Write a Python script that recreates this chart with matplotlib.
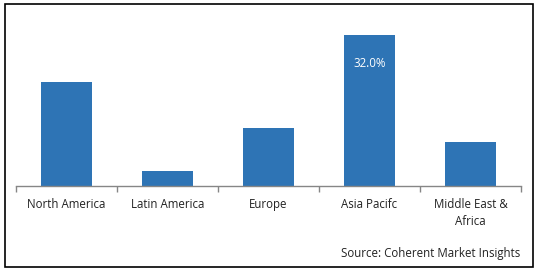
import matplotlib.pyplot as plt
from matplotlib.patches import Rectangle
import numpy as np

plt.rcParams['font.family'] = ['Open Sans', 'DejaVu Sans']

regions = ['North America', 'Latin America', 'Europe', 'Asia Pacifc', 'Middle East &\nAfrica']
share = [22.0, 3.2, 12.3, 32.0, 9.3]
label_idx = 3

fig = plt.figure(figsize=(5.38, 2.72), dpi=100)
ax = fig.add_axes([16 / 538, 86 / 272, 505 / 538, 165 / 272])

x = np.arange(len(regions))
bars = ax.bar(x, share, width=0.5, color='#2e74b5')

ax.set_xlim(-0.5, len(regions) - 0.5)
ax.set_ylim(0, 35)
ax.set_yticks([])
for s in ['top', 'right', 'left']:
    ax.spines[s].set_visible(False)
ax.spines['bottom'].set_color('#868686')
ax.spines['bottom'].set_linewidth(1)

ax.set_xticks(x)
ax.set_xticklabels(regions, fontsize=8.3, color='#222222', linespacing=1.4)
ax.tick_params(axis='x', which='major', length=0, pad=8.5)
ax.set_xticks(np.arange(-0.5, len(regions)), minor=True)
ax.tick_params(axis='x', which='minor', length=4, color='#868686', width=1)

b = bars[label_idx]
ax.text(b.get_x() + b.get_width() / 2, share[label_idx] - 6.1, '%.1f%%' % share[label_idx],
        ha='center', va='center', color='white', fontsize=8.3)

fig.text(520 / 538, 1 - 254 / 272, 'Source: Coherent Market Insights',
         ha='right', va='center', fontsize=8.3, color='#222222')

fig.patches.append(Rectangle((5 / 538, 5 / 272), 528 / 538, 263 / 272,
                             transform=fig.transFigure, fill=False,
                             edgecolor='black', linewidth=1.2))

fig.savefig('out.png', dpi=100)
